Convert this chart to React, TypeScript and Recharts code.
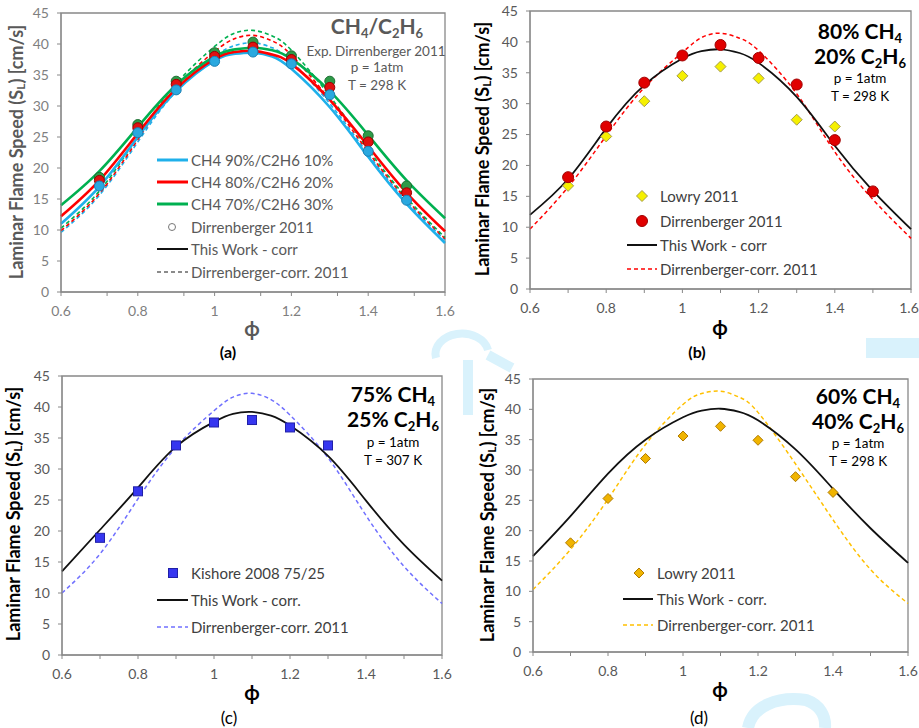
import React from "react";
import { ComposedChart, Line, Scatter, XAxis, YAxis, ReferenceArea } from "recharts";

const FONT = "Lato, 'Open Sans', sans-serif";

// equivalence ratios where the correlation curves are sampled
const phiFit = [0.6, 0.7, 0.8, 0.9, 1.0, 1.05, 1.1, 1.15, 1.2, 1.3, 1.4, 1.5, 1.6];
// equivalence ratios of the measurements
const phiDirr = [0.7, 0.8, 0.9, 1.0, 1.1, 1.2, 1.3, 1.4, 1.5];
const phiLowry = [0.7, 0.8, 0.9, 1.0, 1.1, 1.2, 1.3, 1.4];
const phiKishore = [0.7, 0.8, 0.9, 1.0, 1.1, 1.2, 1.3];

// (a) CH4/C2H6 blends, this work correlation
const corr90 = [11.0, 17.0, 25.0, 32.4, 37.3, 38.4, 38.6, 38.0, 36.0, 29.8, 21.8, 14.2, 7.9];
const corr80 = [12.2, 18.0, 25.6, 32.8, 37.6, 38.7, 38.9, 38.3, 36.8, 31.0, 23.5, 16.0, 9.8];
const corr70 = [14.0, 19.5, 26.6, 33.4, 38.0, 39.1, 39.4, 39.0, 37.6, 32.4, 25.3, 18.0, 11.9];
// (a) Dirrenberger correlation
const dirrCorr90 = [9.6, 15.6, 24.2, 32.4, 38.0, 39.7, 40.2, 39.4, 37.2, 30.4, 22.2, 14.6, 8.4];
const dirrCorr80 = [9.9, 15.9, 24.6, 33.0, 38.8, 40.8, 41.4, 40.5, 38.2, 31.0, 22.6, 14.9, 8.6];
const dirrCorr70 = [10.3, 16.3, 25.1, 33.6, 39.6, 41.7, 42.2, 41.3, 39.0, 31.6, 23.0, 15.2, 8.8];
// (a) Dirrenberger 2011 measurements
const dirrExp90 = [17.1, 25.7, 32.6, 37.2, 38.7, 36.8, 31.8, 22.7, 14.8];
const dirrExp80 = [18.0, 26.5, 33.5, 38.0, 39.5, 37.5, 33.0, 24.2, 16.0];
const dirrExp70 = [18.5, 27.0, 34.0, 38.6, 40.3, 38.1, 34.0, 25.2, 17.1];

// (b) 80% CH4 / 20% C2H6
const corrB = [12.0, 17.8, 26.0, 33.0, 37.3, 38.5, 38.8, 38.2, 36.6, 31.1, 23.2, 15.9, 9.7];
const dirrCorrB = [9.7, 16.5, 24.8, 32.6, 38.3, 40.7, 41.4, 40.6, 38.6, 31.6, 22.2, 14.5, 8.2];
const lowryB = [16.7, 24.7, 30.4, 34.5, 36.0, 34.1, 27.4, 26.3];
const dirrExpB = [18.1, 26.3, 33.4, 37.8, 39.5, 37.4, 33.1, 24.1, 15.8];

// (c) 75% CH4 / 25% C2H6
const corrC = [13.5, 20.2, 27.0, 33.6, 37.6, 38.9, 39.2, 38.6, 37.0, 32.1, 24.9, 17.8, 12.0];
const dirrCorrC = [10.0, 16.3, 25.2, 33.5, 39.4, 41.6, 42.2, 41.2, 38.7, 31.8, 22.5, 14.3, 8.3];
const kishoreC = [18.9, 26.4, 33.8, 37.5, 37.9, 36.7, 33.8];

// (d) 60% CH4 / 40% C2H6
const corrD = [15.8, 22.4, 29.4, 35.0, 38.7, 39.8, 40.1, 39.6, 38.2, 33.4, 26.9, 20.4, 14.7];
const dirrCorrD = [10.3, 16.9, 25.2, 34.2, 40.8, 42.6, 43.0, 42.0, 39.5, 31.0, 21.8, 13.6, 8.0];
const lowryD = [18.0, 25.3, 31.9, 35.6, 37.2, 34.9, 28.9, 26.3];

const xTicksFine = Array.from({ length: 26 }, (_, i) => +(0.6 + i * 0.04).toFixed(2));
const yTicksFine = Array.from({ length: 19 }, (_, i) => i * 2.5);
const xTicks = [0.6, 0.7, 0.8, 0.9, 1.0, 1.1, 1.2, 1.3, 1.4, 1.5, 1.6];
const yTicks = [0, 5, 10, 15, 20, 25, 30, 35, 40, 45];

const pts = (xs: number[], ys: number[]) => xs.map((x, i) => ({ x, y: ys[i] }));

const circle = (fill: string, stroke: string, r = 5) => (p: any) =>
  <circle cx={p.cx} cy={p.cy} r={r} fill={fill} stroke={stroke} strokeWidth={1} />;
const diamond = (fill: string, stroke: string, s = 5.5) => (p: any) =>
  <path d={`M${p.cx},${p.cy - s}L${p.cx + s},${p.cy}L${p.cx},${p.cy + s}L${p.cx - s},${p.cy}Z`} fill={fill} stroke={stroke} strokeWidth={1} />;
const square = (fill: string, stroke: string, s = 4.5) => (p: any) =>
  <rect x={p.cx - s} y={p.cy - s} width={2 * s} height={2 * s} fill={fill} stroke={stroke} strokeWidth={1} />;

const onStep = (v: number, step: number) => Math.abs(v / step - Math.round(v / step)) < 1e-6;
const fmt = (v: number) => String(Math.round(v * 10) / 10);

type PanelProps = {
  left: number; top: number; width: number; height: number;
  margin: { top: number; right: number; bottom: number; left: number };
  fine?: boolean; tickColor: string; children: React.ReactNode;
};

function Panel({ left, top, width, height, margin, fine, tickColor, children }: PanelProps) {
  const xt = fine ? xTicksFine : xTicks;
  const yt = fine ? yTicksFine : yTicks;
  return (
    <div style={{ position: "absolute", left, top }}>
      <ComposedChart width={width} height={height} margin={margin}>
        <XAxis dataKey="x" type="number" domain={[0.6, 1.6]} ticks={xt} height={30}
          axisLine={{ stroke: "#888" }} tickLine={{ stroke: "#888" }} tickSize={4} tickMargin={10}
          tick={(p: any) => onStep(p.payload.value, 0.2)
            ? <text x={p.x} y={p.y} dy="0.71em" textAnchor="middle" fill={tickColor} fontSize={14} fontFamily={FONT}>{fmt(p.payload.value)}</text>
            : <g />} />
        <YAxis dataKey="y" type="number" domain={[0, 45]} ticks={yt} width={40}
          axisLine={{ stroke: "#888" }} tickLine={{ stroke: "#888" }} tickSize={4} tickMargin={8}
          tick={(p: any) => onStep(p.payload.value, 5)
            ? <text x={p.x} y={p.y} dy="0.35em" textAnchor="end" fill={tickColor} fontSize={14} fontFamily={FONT}>{p.payload.value}</text>
            : <g />} />
        <ReferenceArea x1={0.6} x2={1.6} y1={0} y2={45} fill="none" stroke="#888" strokeWidth={1.3} />
        {children}
      </ComposedChart>
    </div>
  );
}

const fitLine = (key: string, ys: number[], stroke: string, width: number, dash?: string) => (
  <Line key={key} data={pts(phiFit, ys)} dataKey="y" type="natural" stroke={stroke} strokeWidth={width}
    strokeDasharray={dash} dot={false} activeDot={false} isAnimationActive={false} />
);
const markers = (key: string, xs: number[], ys: number[], shape: any) => (
  <Scatter key={key} data={pts(xs, ys)} dataKey="y" shape={shape} isAnimationActive={false} />
);

const BLUE = "#1fb0ea";
const RED = "#ff0000";
const GREEN = "#00b050";

function YLabel({ x, y, color }: { x: number; y: number; color: string }) {
  return (
    <text transform={`translate(${x},${y}) rotate(-90)`} textAnchor="middle" dominantBaseline="central"
      fontWeight="bold" fontSize={18} fill={color} fontFamily={FONT}>
      Laminar Flame Speed (S<tspan fontSize={12} dy={4}>L</tspan><tspan dy={-4}>) [cm/s]</tspan>
    </text>
  );
}

function Blend({ x, y, ch4, c2h6, color, size }: { x: number; y: number; ch4: string; c2h6: string; color: string; size: number }) {
  const sub = size * 0.62;
  return (
    <g fontFamily={FONT} fontWeight="bold" fontSize={size} fill={color} textAnchor="middle">
      <text x={x} y={y}>{ch4} CH<tspan fontSize={sub} dy={4}>4</tspan></text>
      <text x={x} y={y + 25}>{c2h6} C<tspan fontSize={sub} dy={4}>2</tspan><tspan dy={-4}>H</tspan><tspan fontSize={sub} dy={4}>6</tspan></text>
    </g>
  );
}

function Cond({ x, y, t, color }: { x: number; y: number; t: string; color: string }) {
  return (
    <g fontFamily={FONT} fontSize={13.5} fill={color} textAnchor="middle">
      <text x={x} y={y}>p = 1atm</text>
      <text x={x} y={y + 18}>T = {t}</text>
    </g>
  );
}

function LegendRow({ x, y, text, color, sym }: { x: number; y: number; text: string; color: string; sym: React.ReactNode }) {
  return (
    <g>
      {sym}
      <text x={x} y={y} dominantBaseline="central" fontFamily={FONT} fontSize={15} fill={color}>{text}</text>
    </g>
  );
}

function Overlay() {
  const gA = "#595959";
  const dk = "#404040";
  const seg = (x1: number, x2: number, y: number, c: string, w: number, dash?: string) =>
    <line x1={x1} x2={x2} y1={y} y2={y} stroke={c} strokeWidth={w} strokeDasharray={dash} />;
  return (
    <svg width={919} height={728} style={{ position: "absolute", left: 0, top: 0, pointerEvents: "none" }}>
      {/* panel (a) */}
      <YLabel x={16} y={152} color={gA} />
      <text x={252} y={336} textAnchor="middle" fontWeight="bold" fontSize={20} fill={gA} fontFamily={FONT}>ϕ</text>
      <g fontFamily={FONT} fontWeight="bold" fontSize={21} fill={gA} textAnchor="middle">
        <text x={377} y={34}>CH<tspan fontSize={13} dy={4}>4</tspan><tspan dy={-4}>/C</tspan><tspan fontSize={13} dy={4}>2</tspan><tspan dy={-4}>H</tspan><tspan fontSize={13} dy={4}>6</tspan></text>
      </g>
      <text x={376} y={56} textAnchor="middle" fontFamily={FONT} fontSize={13.5} fill={gA}>Exp. Dirrenberger 2011</text>
      <Cond x={377} y={72} t="298 K" color={gA} />
      <LegendRow x={191} y={160} text="CH4 90%/C2H6 10%" color={gA} sym={seg(157, 188, 160, BLUE, 3)} />
      <LegendRow x={191} y={182} text="CH4 80%/C2H6 20%" color={gA} sym={seg(157, 188, 182, RED, 3)} />
      <LegendRow x={191} y={204} text="CH4 70%/C2H6 30%" color={gA} sym={seg(157, 188, 204, GREEN, 3)} />
      <LegendRow x={191} y={227} text="Dirrenberger 2011" color={gA} sym={<circle cx={172} cy={227} r={3.5} fill="none" stroke="#777" />} />
      <LegendRow x={191} y={249} text="This Work - corr" color={gA} sym={seg(157, 188, 249, "#111", 2)} />
      <LegendRow x={191} y={272} text="Dirrenberger-corr. 2011" color={gA} sym={seg(157, 188, 272, "#666", 1.6, "4 3")} />
      <text x={228} y={358} textAnchor="middle" fontWeight="bold" fontSize={16} fill="#000" fontFamily={FONT}>(a)</text>

      {/* panel (b) */}
      <YLabel x={482} y={149} color="#000" />
      <text x={720} y={335} textAnchor="middle" fontWeight="bold" fontSize={20} fill="#000" fontFamily={FONT}>ϕ</text>
      <Blend x={860} y={39} ch4="80%" c2h6="20%" color="#000" size={21} />
      <Cond x={860} y={83} t="298 K" color="#000" />
      <LegendRow x={660} y={196} text="Lowry 2011" color={dk} sym={diamond("#f5f000", "#a59c4a")({ cx: 642, cy: 196 })} />
      <LegendRow x={660} y={221} text="Dirrenberger 2011" color={dk} sym={circle("#e00000", "#a00000", 5.5)({ cx: 642, cy: 221 })} />
      <LegendRow x={660} y={245} text="This Work - corr" color={dk} sym={seg(627, 657, 245, "#111", 2)} />
      <LegendRow x={660} y={269} text="Dirrenberger-corr. 2011" color={dk} sym={seg(627, 657, 269, RED, 1.5, "4 3")} />
      <text x={697} y={358} textAnchor="middle" fontWeight="bold" fontSize={16} fill="#000" fontFamily={FONT}>(b)</text>

      {/* panel (c) */}
      <YLabel x={13} y={514} color="#000" />
      <text x={252} y={700} textAnchor="middle" fontWeight="bold" fontSize={20} fill="#000" fontFamily={FONT}>ϕ</text>
      <Blend x={393} y={402} ch4="75%" c2h6="25%" color="#000" size={21} />
      <Cond x={393} y={447} t="307 K" color="#000" />
      <LegendRow x={191} y={573} text="Kishore 2008 75/25" color={dk} sym={square("#3636f0", "#2020a8")({ cx: 173, cy: 573 })} />
      <LegendRow x={191} y={600} text="This Work - corr." color={dk} sym={seg(157, 188, 600, "#111", 2)} />
      <LegendRow x={191} y={627} text="Dirrenberger-corr. 2011" color={dk} sym={seg(157, 188, 627, "#7070ff", 1.5, "4 3")} />
      <text x={229} y={724} textAnchor="middle" fontSize={17} fill="#000" fontFamily={FONT}>(c)</text>

      {/* panel (d) */}
      <YLabel x={487} y={515} color="#000" />
      <text x={720} y={697} textAnchor="middle" fontWeight="bold" fontSize={20} fill="#000" fontFamily={FONT}>ϕ</text>
      <Blend x={858} y={404} ch4="60%" c2h6="40%" color="#000" size={21} />
      <Cond x={858} y={448} t="298 K" color="#000" />
      <LegendRow x={657} y={573} text="Lowry 2011" color={dk} sym={diamond("#f0b400", "#b07a00", 5)({ cx: 639, cy: 573 })} />
      <LegendRow x={657} y={599} text="This Work - corr." color={dk} sym={seg(623, 653, 599, "#111", 2)} />
      <LegendRow x={657} y={625} text="Dirrenberger-corr. 2011" color={dk} sym={seg(623, 653, 625, "#ffc000", 1.5, "4 3")} />
      <text x={699} y={724} textAnchor="middle" fontSize={17} fill="#000" fontFamily={FONT}>(d)</text>
    </svg>
  );
}

function Watermark() {
  const c = "#d9f2fc";
  return (
    <svg width={919} height={728} style={{ position: "absolute", left: 0, top: 0 }}>
      <rect x={866} y={338} width={53} height={20} fill={c} />
      <path d="M436,358 A26,20 0 0 1 488,350" stroke={c} strokeWidth={8} fill="none" />
      <rect x={463} y={360} width={10} height={55} fill={c} />
      <path d="M488,355 L512,368" stroke={c} strokeWidth={10} fill="none" />
      <path d="M748,728 C752,706 778,696 806,700 C820,705 826,716 825,728" stroke={c} strokeWidth={12} fill="none" />
    </svg>
  );
}

export default function App() {
  return (
    <div style={{ position: "absolute", left: 0, top: 0, width: 919, height: 728, background: "#fff", fontFamily: FONT }}>
      <Watermark />
      <Panel left={0} top={0} width={460} height={340} margin={{ top: 13, right: 15, bottom: 18, left: 21 }} fine tickColor="#7f7f7f">
        {fitLine("d90", dirrCorr90, BLUE, 1.6, "4 3")}
        {fitLine("d80", dirrCorr80, RED, 1.6, "4 3")}
        {fitLine("d70", dirrCorr70, GREEN, 1.6, "4 3")}
        {fitLine("c90", corr90, BLUE, 2.6)}
        {fitLine("c80", corr80, RED, 2.6)}
        {fitLine("c70", corr70, GREEN, 2.6)}
        {markers("e70", phiDirr, dirrExp70, circle("#2e9a48", "#1a6e31"))}
        {markers("e80", phiDirr, dirrExp80, circle("#e01010", "#9a0000"))}
        {markers("e90", phiDirr, dirrExp90, circle("#2aa8df", "#1b7fb3"))}
      </Panel>
      <Panel left={460} top={0} width={459} height={340} margin={{ top: 11, right: 8, bottom: 21, left: 30 }} tickColor="#595959">
        {fitLine("db", dirrCorrB, RED, 1.5, "4 3")}
        {fitLine("cb", corrB, "#111", 1.8)}
        {markers("lb", phiLowry, lowryB, diamond("#f5f000", "#a59c4a"))}
        {markers("eb", phiDirr, dirrExpB, circle("#e00000", "#a00000", 5.5))}
      </Panel>
      <Panel left={0} top={360} width={460} height={368} margin={{ top: 16, right: 18, bottom: 43, left: 22 }} tickColor="#595959">
        {fitLine("dc", dirrCorrC, "#7070ff", 1.5, "4 3")}
        {fitLine("cc", corrC, "#111", 1.8)}
        {markers("kc", phiKishore, kishoreC, square("#3636f0", "#2020a8"))}
      </Panel>
      <Panel left={460} top={360} width={459} height={368} margin={{ top: 19, right: 11, bottom: 46, left: 33 }} tickColor="#595959">
        {fitLine("dd", dirrCorrD, "#ffc000", 1.5, "4 3")}
        {fitLine("cd", corrD, "#111", 1.8)}
        {markers("ld", phiLowry, lowryD, diamond("#f0b400", "#b07a00", 5))}
      </Panel>
      <Overlay />
    </div>
  );
}
